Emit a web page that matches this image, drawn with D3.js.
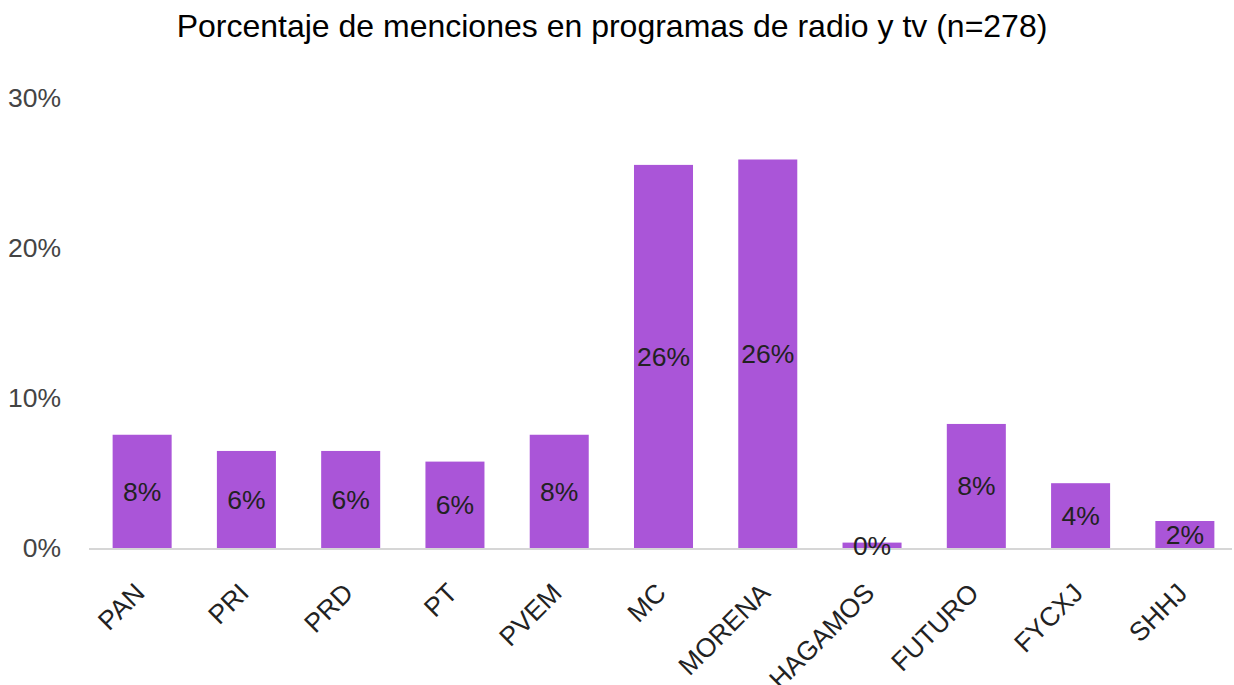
<!DOCTYPE html>
<html>
<head>
<meta charset="utf-8">
<script src="https://cdn.jsdelivr.net/npm/d3@7"></script>
<style>
  body { margin: 0; background: #fff; }
  text { font-family: "Liberation Sans", Arial, sans-serif; }
</style>
</head>
<body>
<svg id="chart" width="1234" height="685"></svg>
<script>
// data (percent of 278 mentions)
var partidos = ["PAN", "PRI", "PRD", "PT", "PVEM", "MC", "MORENA", "HAGAMOS", "FUTURO", "FYCXJ", "SHHJ"];
var porcentajes = [7.55, 6.47, 6.47, 5.76, 7.55, 25.54, 25.9, 0.36, 8.27, 4.32, 1.8];
var yTicks = [0, 10, 20, 30];
var titulo = "Porcentaje de menciones en programas de radio y tv (n=278)";

var svg = d3.select("#chart");

// scales
var x = d3.scaleBand().domain(partidos).range([90, 1237]).paddingInner(0.434).paddingOuter(0.217);
var y = d3.scaleLinear().domain([0, 30]).range([548, 98]);

// title
svg.append("text")
   .attr("x", 612)
   .attr("y", 37)
   .attr("text-anchor", "middle")
   .style("font-size", "32px")
   .style("fill", "#000")
   .text(titulo);

// y axis labels (no grid lines)
svg.append("g")
   .selectAll("text")
   .data(yTicks)
   .join("text")
     .attr("x", 61)
     .attr("y", function(d) { return y(d); })
     .attr("dy", "0.35em")
     .attr("text-anchor", "end")
     .style("font-size", "26.5px")
     .style("fill", "#444")
     .text(function(d) { return d + "%"; });

// bars
svg.append("g")
   .selectAll("rect")
   .data(porcentajes)
   .join("rect")
     .attr("x", function(d, i) { return x(partidos[i]); })
     .attr("y", function(d) { return y(d); })
     .attr("width", x.bandwidth())
     .attr("height", function(d) { return y(0) - y(d); })
     .style("fill", "#aa55d8");

// baseline
svg.append("line")
   .attr("x1", 89)
   .attr("x2", 1232)
   .attr("y1", y(0) + 1)
   .attr("y2", y(0) + 1)
   .style("stroke", "#d6d6d6")
   .style("stroke-width", 2);

// value labels in the middle of each bar
svg.append("g")
   .selectAll("text")
   .data(porcentajes)
   .join("text")
     .attr("x", function(d, i) { return x(partidos[i]) + x.bandwidth() / 2; })
     .attr("y", function(d) { return (y(d) + y(0)) / 2; })
     .attr("dy", "0.35em")
     .attr("text-anchor", "middle")
     .style("font-size", "26.5px")
     .style("fill", "#222")
     .text(function(d) { return Math.round(d) + "%"; });

// category labels, rotated
svg.append("g")
   .selectAll("text")
   .data(partidos)
   .join("text")
     .attr("transform", function(d) {
       return "translate(" + (x(d) + x.bandwidth() / 2 - 2.5) + "," + 588 + ") rotate(-45)";
     })
     .attr("text-anchor", "end")
     .attr("dy", "0.35em")
     .style("font-size", "26.5px")
     .style("fill", "#222")
     .text(function(d) { return d; });
</script>
</body>
</html>
